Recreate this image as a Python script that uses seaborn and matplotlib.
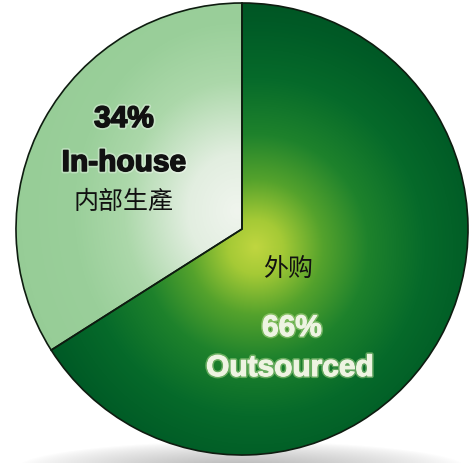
import numpy as np
import matplotlib
matplotlib.use("Agg")
import matplotlib.pyplot as plt
import matplotlib.patheffects as pe
import seaborn as sns

# Sourcing split
segments = ["In-house", "Outsourced"]
shares = [34, 66]
share_labels = ["34%", "66%"]
chinese_labels = ["内部生產", "外购"]

sns.set_theme(style="white")
plt.rcParams["font.family"] = ["Liberation Sans", "DejaVu Sans"]

W, H, DPI = 477, 464, 100
fig = plt.figure(figsize=(W / DPI, H / DPI), dpi=DPI, facecolor="white")
ax = fig.add_axes([0, 0, 1, 1])
ax.set_axis_off()

# pie centre and radius in pixels -> data units of radius 1
cx, cy, R = 242.0, 230.0, 226.0
x0, x1 = -cx / R, (W - cx) / R
y0, y1 = (cy - H) / R, cy / R

wedges, _ = ax.pie(shares, startangle=90, counterclock=True, radius=1.0,
                   wedgeprops=dict(facecolor="none", edgecolor="#0e1c10",
                                   linewidth=1.2, zorder=3))
ax.set_xlim(x0, x1)
ax.set_ylim(y0, y1)
ax.set_aspect("auto")

n = 500
gx = np.linspace(x0, x1, n)
gy = np.linspace(y1, y0, n)
X, Y = np.meshgrid(gx, gy)


def ramp(r, stops):
    pos = np.array([s[0] for s in stops])
    cols = np.array([s[1] for s in stops], dtype=float) / 255.0
    out = np.empty(r.shape + (3,))
    for k in range(3):
        out[..., k] = np.interp(r, pos, cols[:, k])
    return out


# soft floor shadow under the disc
sx, sy = 0.0, (cy - 470) / R
sd = np.sqrt(((X - sx) / 1.0) ** 2 + ((Y - sy) / 0.12) ** 2)
alpha = np.clip(1 - sd, 0, 1) ** 0.8 * 0.6
shadow = np.zeros(X.shape + (4,))
shadow[..., :3] = 0.5
shadow[..., 3] = alpha
ax.imshow(shadow, extent=(x0, x1, y0, y1), zorder=0.5, interpolation="bilinear")

# in-house: pale green brightening towards the centre
d_in = np.sqrt(((X + 0.02) / 1.0) ** 2 + ((Y - 0.08) / 1.15) ** 2)
img_in = ramp(d_in, [(0.0, (240, 245, 238)), (0.22, (226, 238, 224)),
                     (0.5, (172, 216, 170)), (0.72, (154, 207, 154)),
                     (1.2, (148, 203, 148))])
im1 = ax.imshow(img_in, extent=(x0, x1, y0, y1), zorder=2, interpolation="bilinear")
im1.set_clip_path(wedges[0])

# outsourced: yellow-green glow fading to deep green at the rim
d_out = np.sqrt((X - 0.06) ** 2 + (Y + 0.08) ** 2)
img_out = ramp(d_out, [(0.0, (192, 214, 64)), (0.12, (165, 202, 54)),
                       (0.3, (84, 162, 44)), (0.5, (30, 130, 44)),
                       (0.75, (6, 106, 42)), (1.0, (0, 90, 38)),
                       (1.3, (0, 76, 32))])
im2 = ax.imshow(img_out, extent=(x0, x1, y0, y1), zorder=2, interpolation="bilinear")
im2.set_clip_path(wedges[1])


def px(xp, yp):
    return (xp - cx) / R, (cy - yp) / R


dark_fx = [pe.Stroke(linewidth=3.5, foreground=(1, 1, 1, 0.35)),
           pe.Stroke(linewidth=1.1, foreground="#111111"), pe.Normal()]
light_fx = [pe.Stroke(linewidth=3.0, foreground=(0.78, 0.9, 0.62, 0.45)),
            pe.Stroke(linewidth=0.8, foreground="#eef4e2"), pe.Normal()]
bold = dict(fontsize=21.5, fontweight="bold", ha="center", va="baseline", zorder=5)

ax.text(*px(124, 128), share_labels[0], color="#111111", path_effects=dark_fx, **bold)
ax.text(*px(124, 172), segments[0], color="#111111", path_effects=dark_fx, **bold)
ax.text(*px(292, 337), share_labels[1], color="#eef4e2", path_effects=light_fx, **bold)
ax.text(*px(290, 377), segments[1], color="#eef4e2", path_effects=light_fx, **bold)

cjk = dict(fontsize=18, ha="center", va="center", color="#111111", zorder=5,
           family=["Noto Sans CJK SC", "DejaVu Sans"])
ax.text(*px(124, 202), chinese_labels[0], **cjk)
ax.text(*px(288, 270), chinese_labels[1], **cjk)

fig.savefig("out.png", dpi=DPI, facecolor="white")
